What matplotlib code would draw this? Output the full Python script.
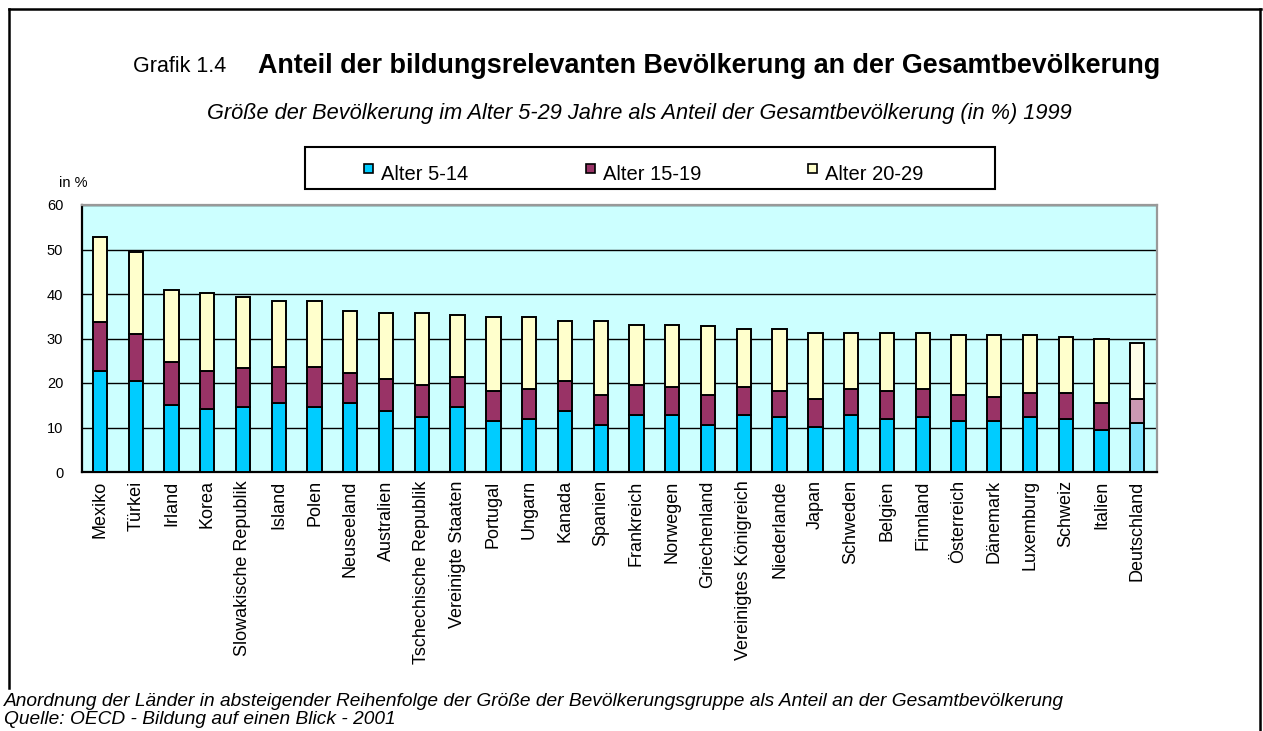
import numpy as np
import matplotlib
matplotlib.use("Agg")
import matplotlib.pyplot as plt
from matplotlib.patches import Rectangle
from matplotlib.lines import Line2D

plt.rcParams['font.family'] = ['Liberation Sans', 'DejaVu Sans']

# Daten (in % der Gesamtbevoelkerung, 1999)
countries = ["Mexiko", "Türkei", "Irland", "Korea", "Slowakische Republik",
             "Island", "Polen", "Neuseeland", "Australien",
             "Tschechische Republik", "Vereinigte Staaten", "Portugal",
             "Ungarn", "Kanada", "Spanien", "Frankreich", "Norwegen",
             "Griechenland", "Vereinigtes Königreich", "Niederlande", "Japan",
             "Schweden", "Belgien", "Finnland", "Österreich", "Dänemark",
             "Luxemburg", "Schweiz", "Italien", "Deutschland"]
age_5_14 = [22.8, 20.5, 15.1, 14.2, 14.6, 15.5, 14.6, 15.5, 13.7, 12.3,
            14.5, 11.4, 11.9, 13.7, 10.5, 12.7, 12.7, 10.5, 12.7, 12.3,
            10.1, 12.7, 11.9, 12.3, 11.4, 11.4, 12.3, 11.9, 9.5, 10.9]
age_15_19 = [11.0, 10.5, 9.6, 8.6, 8.7, 8.2, 9.1, 6.8, 7.2, 7.2,
             6.9, 6.9, 6.8, 6.8, 6.8, 6.9, 6.5, 6.8, 6.5, 6.0,
             6.3, 6.0, 6.4, 6.4, 5.9, 5.5, 5.5, 5.9, 6.0, 5.5]
age_20_29 = [18.9, 18.5, 16.2, 17.5, 16.1, 14.8, 14.8, 13.9, 14.9, 16.3,
             13.9, 16.6, 16.2, 13.5, 16.7, 13.5, 13.9, 15.4, 12.9, 13.8,
             14.8, 12.5, 12.9, 12.5, 13.5, 13.9, 13.0, 12.5, 14.4, 12.6]
series_labels = ["Alter 5-14", "Alter 15-19", "Alter 20-29"]
yticks = [0, 10, 20, 30, 40, 50, 60]

colors = ["#00CCFF", "#993366", "#FFFFCC"]
colors_de = ["#80E4FF", "#CC99B3", "#FFFFE8"]   # Deutschland hervorgehoben

W, H = 1263, 731
fig = plt.figure(figsize=(W / 100, H / 100), dpi=100)


def fx(px):
    return px / W


def fy(py):
    return 1 - py / H


ax = fig.add_axes([fx(82), fy(472), fx(1157 - 82), (472 - 205) / H])
ax.set_facecolor("#CCFFFF")

x = np.arange(len(countries))
bottom = np.zeros(len(countries))
for vals, col, col_de in zip([age_5_14, age_15_19, age_20_29], colors, colors_de):
    vals = np.array(vals)
    bar_cols = [col] * (len(countries) - 1) + [col_de]
    ax.bar(x, vals, width=0.4, bottom=bottom, color=bar_cols,
           edgecolor="black", linewidth=1.4, zorder=3)
    bottom += vals

ax.set_xlim(-0.5, len(countries) - 0.45)
ax.set_ylim(0, 60)
ax.set_yticks(yticks)
ax.set_yticklabels([str(t) for t in yticks], fontsize=10.5)
ax.set_xticks(x)
ax.set_xticklabels(countries, rotation=90, fontsize=13)
ax.tick_params(axis="y", length=0, pad=13.5)
ax.tick_params(axis="x", length=0, pad=6)
ax.yaxis.grid(True, color="black", linewidth=1.0, zorder=1)
ax.set_axisbelow(True)
for s in ["left", "bottom"]:
    ax.spines[s].set_color("black")
    ax.spines[s].set_linewidth(1.6)
for s in ["top", "right"]:
    ax.spines[s].set_color("#999999")
    ax.spines[s].set_linewidth(1.6)

# titles
fig.text(fx(133), fy(67), "Grafik 1.4", fontsize=15.5, va="center", ha="left")
fig.text(fx(258), fy(66), "Anteil der bildungsrelevanten Bevölkerung an der Gesamtbevölkerung",
         fontsize=19.4, fontweight="bold", va="center", ha="left")
fig.text(fx(639), fy(113),
         "Größe der Bevölkerung im Alter 5-29 Jahre als Anteil der Gesamtbevölkerung (in %) 1999",
         fontsize=15.7, style="italic", va="center", ha="center")
fig.text(fx(59), fy(183), "in %", fontsize=10.5, va="center", ha="left")

# legend box
fig.patches.append(Rectangle((fx(305), fy(189)), fx(995 - 305), (189 - 147) / H,
                             transform=fig.transFigure, facecolor="white",
                             edgecolor="black", linewidth=1.5))
for lx, lab, col in zip([364, 586, 808], series_labels, colors):
    fig.patches.append(Rectangle((fx(lx), fy(173)), fx(9), 9 / H,
                                 transform=fig.transFigure, facecolor=col,
                                 edgecolor="black", linewidth=1.2))
    fig.text(fx(lx + 17), fy(174), lab, fontsize=14.5, va="center", ha="left")

# notes
fig.text(fx(4), fy(701),
         "Anordnung der Länder in absteigender Reihenfolge der Größe der Bevölkerungsgruppe als Anteil an der Gesamtbevölkerung",
         fontsize=13.8, style="italic", va="center", ha="left")
fig.text(fx(4), fy(720), "Quelle: OECD - Bildung auf einen Blick - 2001",
         fontsize=13.8, style="italic", va="center", ha="left")

# frame
for xs, ys in [([9, 1261], [9, 9]), ([9, 9], [9, 688]), ([1260, 1260], [9, 731])]:
    fig.lines.append(Line2D([fx(v) for v in xs], [fy(v) for v in ys],
                            transform=fig.transFigure, color="black", linewidth=1.8))

fig.savefig("out.png", dpi=100)
